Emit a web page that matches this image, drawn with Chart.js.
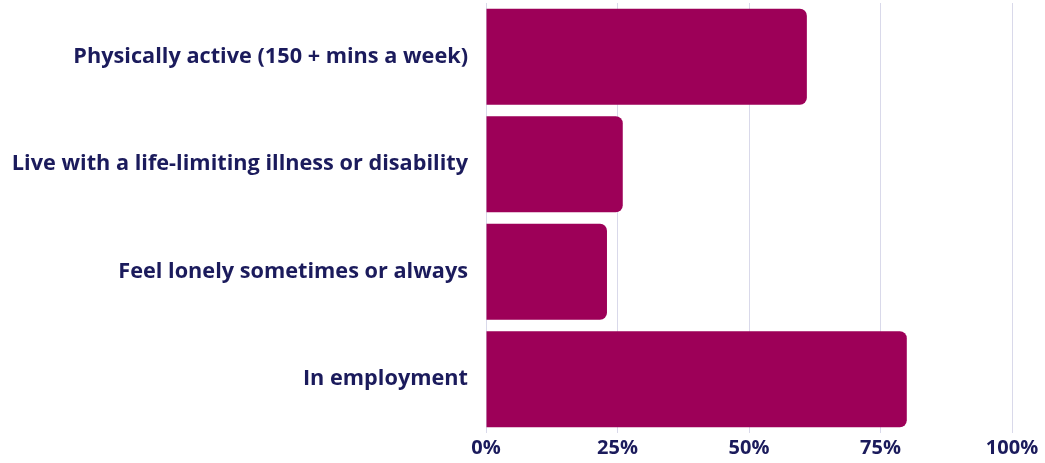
<!DOCTYPE html>
<html><head><meta charset="utf-8">
<script src="https://cdn.jsdelivr.net/npm/chart.js@4"></script>
<style>html,body{margin:0;padding:0;background:#fff}#wrap{width:1045px;height:463px}</style>
</head><body><div id="wrap"><canvas id="c"></canvas></div>
<script>
const categories = ["Physically active (150 + mins a week)", "Live with a life-limiting illness or disability", "Feel lonely sometimes or always", "In employment"];
const values = [61, 26, 23, 80];
const xTicks = [0, 25, 50, 75, 100];

const navy = '#1b1b5c';
new Chart(document.getElementById('c'), {
  type: 'bar',
  data: { labels: categories, datasets: [{ data: values, backgroundColor: '#9d0058', borderRadius: 7, borderSkipped: 'start', barPercentage: 0.895, categoryPercentage: 1 }] },
  options: {
    indexAxis: 'y', responsive: true, maintainAspectRatio: false, animation: false,
    layout: { padding: { top: 3, right: 33, left: 0, bottom: 0 } },
    plugins: { legend: { display: false }, tooltip: { enabled: false } },
    scales: {
      x: { min: 0, max: 100,
        afterBuildTicks: s => { s.ticks = xTicks.map(v => ({ value: v })); },
        afterFit: s => { s.paddingRight = 0; s.paddingLeft = 0; },
        grid: { color: '#d9d9ea', drawTicks: false, lineWidth: 1 },
        border: { display: false },
        ticks: { color: navy, padding: 3, font: { family: 'Open Sans', weight: 'bold', size: 20, lineHeight: 1.2 }, callback: v => v + '%' } },
      y: { grid: { display: false, drawTicks: false }, border: { display: false },
        afterFit: s => { s.width = 486; s.paddingTop = 0; s.paddingBottom = 0; },
        ticks: { color: navy, padding: 18, font: { family: 'Open Sans', weight: 'bold', size: 21.7 } } }
    }
  }
});
</script></body></html>
